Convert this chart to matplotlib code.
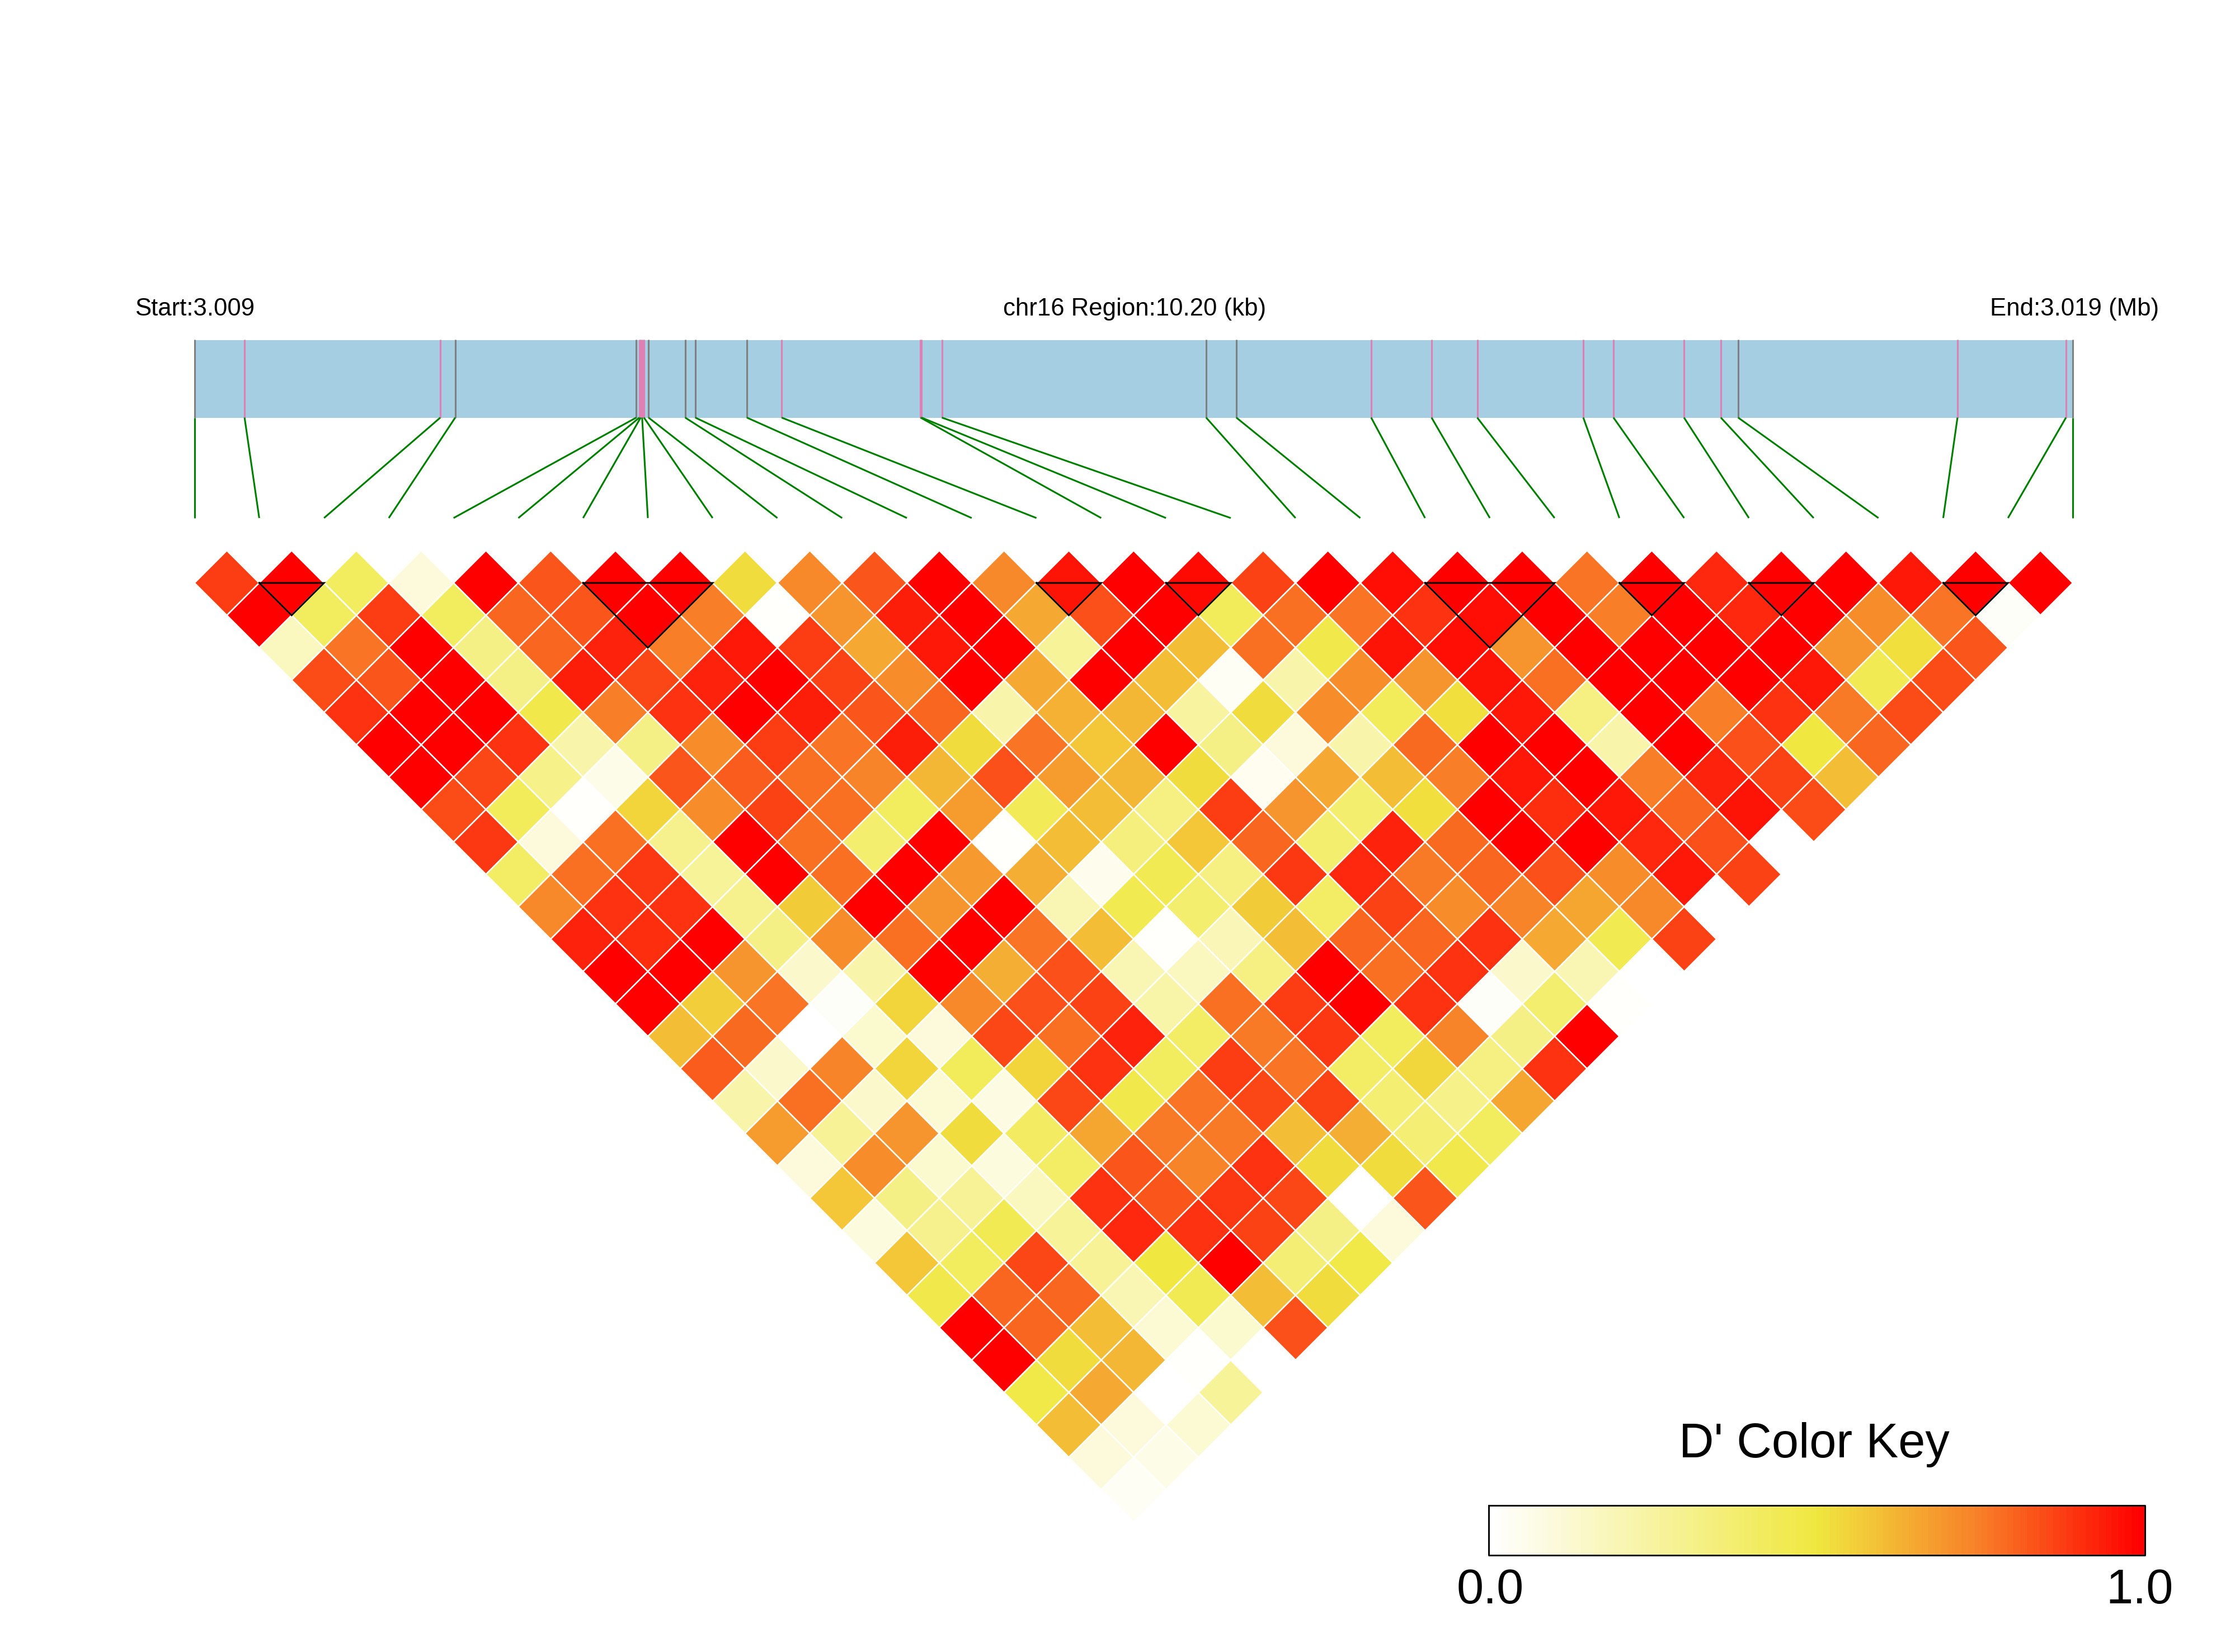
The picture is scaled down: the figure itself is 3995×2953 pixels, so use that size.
import numpy as np
import matplotlib
matplotlib.use('Agg')
import matplotlib.pyplot as plt
from matplotlib.collections import PolyCollection, LineCollection
from matplotlib.colors import LinearSegmentedColormap

plt.rcParams['font.family'] = ['Liberation Sans', 'DejaVu Sans']

# SNP positions, kb from region start
snp_kb = [0, 0.272, 1.335, 1.416, 2.399, 2.416, 2.423, 2.431, 2.441, 2.466,
          2.665, 2.720, 3.000, 3.189, 3.943, 3.949, 4.059, 5.494, 5.658, 6.390,
          6.718, 6.966, 7.542, 7.706, 8.089, 8.289, 8.383, 9.574, 10.163, 10.20]
snp_pink = [0, 1, 1, 0, 0, 1, 1, 1, 1, 0,
            0, 0, 0, 1, 1, 1, 1, 0, 0, 1,
            1, 1, 1, 1, 1, 1, 0, 1, 1, 0]

# D' values, one list per distance between SNPs
d0 = [.88, 1, .42, .10, 1, .83, 1, 1, .53, .73, .83, 1, .73, .96, 1, .98, .87, 1, .97, 1, 1, .77, 1, .92, 1, 1, .95, 1, 1]
d1 = [1, .42, .88, .42, .80, .83, 1, .75, .01, .70, .94, 1, .65, .84, 1, .43, .78, .77, .90, .97, 1, .75, 1, .92, 1, .72, .77, .02]
d2 = [.17, .77, 1, .32, .80, .93, .75, .95, .88, .65, .95, 1, .27, 1, .60, .78, .47, .96, .97, .70, 1, 1, 1, 1, .70, .52, .83]
d3 = [.85, .83, 1, .32, .94, .86, .93, 1, .87, .72, 1, .65, 1, .60, .03, .22, .72, .70, .96, .78, 1, 1, 1, .95, .45, .85]
d4 = [.90, 1, 1, .47, .75, .90, 1, .94, .83, .80, .22, .63, .62, .25, .53, .72, .43, .52, .95, .33, 1, .75, .90, .76, .85]
d5 = [1, 1, .90, .22, .32, .72, .88, .77, .94, .53, .77, .58, 1, .32, .10, .22, .79, 1, 1, .22, 1, .84, .50, .80]
d6 = [1, .86, .31, .06, .83, .82, .78, .74, .62, .84, .68, .62, .53, .04, .65, .60, .75, .95, 1, .75, .93, .87, .60]
d7 = [.85, .43, .01, .55, .72, .87, .78, .42, .68, .44, .60, .33, .88, .70, .38, .52, 1, .91, .95, .80, .96, .85]
d8 = [.89, .10, .78, .30, 1, .78, .38, 1, .01, .60, .34, .58, .80, .38, .93, .79, 1, 1, .92, .84, 0]
d9 = [.40, .78, .89, .27, 1, .78, 1, .69, .64, .05, .45, .33, .89, .92, .76, .80, .84, .72, .95, .87]
d10 = [.73, .90, .90, .30, .57, 1, .70, 1, .20, .46, .38, .57, .40, .87, .72, .74, .66, .73, 0]
d11 = [.93, .91, 1, .32, .72, .78, 1, .77, .60, .01, .19, .60, .80, .80, .90, .65, .46, .87]
d12 = [1, 1, .70, .14, .22, 1, .64, .84, .20, .17, .33, 1, .78, .90, .14, .20, 0]
d13 = [1, .56, .77, .02, .55, .73, .84, .87, .23, .78, .88, 1, .90, .02, .38, .01]
d14 = [.60, .79, 0, .13, .10, .86, .78, .93, .40, .76, .89, .42, .74, .32, 1]
d15 = [.82, .14, .74, .55, .43, .55, .90, .42, .88, .77, .40, .54, .33, .90]
d16 = [.22, .78, .14, .11, .08, .86, .47, .77, .86, .87, .37, .31, .66]
d17 = [.68, .28, .70, .53, .41, .66, .76, .76, .60, .64, .36, .42]
d18 = [.10, .72, .13, .09, .40, .83, .74, .90, .53, .53, .47]
d19 = [.58, .32, .28, .17, .90, .83, .89, .86, 0, .83]
d20 = [.09, .30, .45, .27, .92, .90, .87, .32, .10]
d21 = [.58, .42, .86, .28, .50, 1, .36, .48]
d22 = [.47, .80, .80, .20, .45, .60, .53]
d23 = [1, .80, .60, .12, .13, .84]
d24 = [1, .53, .62, .01, 0]
d25 = [.48, .65, 0, .27]
d26 = [.60, .10, .12]
d27 = [.10, .07]
d28 = [.03]
rows = [d0, d1, d2, d3, d4, d5, d6, d7, d8, d9, d10, d11, d12, d13, d14,
        d15, d16, d17, d18, d19, d20, d21, d22, d23, d24, d25, d26, d27, d28]

# haplotype blocks (first SNP, last SNP)
blocks = [(1, 2), (6, 8), (13, 14), (15, 16), (19, 21), (22, 23), (24, 25), (27, 28)]

cmap = LinearSegmentedColormap.from_list('ld', [(0, '#FFFFFF'), (0.5, '#F0E840'),
                                                (0.75, '#F88028'), (1, '#FF0000')])

W, H = 3995, 2953
fig = plt.figure(figsize=(W / 300, H / 300), dpi=300)
ax = fig.add_axes([0, 0, 1, 1])
ax.set_xlim(0, W)
ax.set_ylim(H, 0)
ax.axis('off')

left, right = 347.6, 3705
n = len(snp_kb)
step = (right - left) / (n - 1)   # gap between SNPs on the triangle
half = step / 2
y0 = 1042
band_top, band_bot, link_bot = 607.5, 746.5, 926


def kb_x(kb):
    return left + (right - left) * kb / snp_kb[-1]


# gene band
ax.fill_between([left, right], band_top, band_bot, color='#A6CEE3', lw=0, zorder=1)
for i, kb in enumerate(snp_kb):
    col = '#DE80B4' if snp_pink[i] else '#808080'
    ax.plot([kb_x(kb)] * 2, [band_top - 1, band_bot], color=col, lw=0.75, zorder=2, solid_capstyle='butt')

# links from band down to triangle
links = [[(kb_x(kb), band_bot), (left + i * step, link_bot)] for i, kb in enumerate(snp_kb)]
ax.add_collection(LineCollection(links, colors='#008000', linewidths=0.75, zorder=2))

# LD cells
polys = []
vals = []
for r, row in enumerate(rows):
    for c, v in enumerate(row):
        cx = left + step * (c + (r + 1) / 2)
        cy = y0 + half * r
        polys.append([(cx - half, cy), (cx, cy - half), (cx + half, cy), (cx, cy + half)])
        vals.append(v)
pc = PolyCollection(polys, array=np.array(vals), cmap=cmap, edgecolors='white', linewidths=0.6, zorder=3)
pc.set_clim(0, 1)
ax.add_collection(pc)

# block outlines
for a, b in blocks:
    xa, xb = left + a * step, left + b * step
    ax.plot([xa, xb, (xa + xb) / 2, xa], [y0, y0, y0 + half * (b - a), y0],
            color='black', lw=0.7, zorder=4, solid_joinstyle='miter')

# header text
ax.text(kb_x(0), 564, 'Start:3.009', fontsize=10.5, ha='center', va='baseline')
ax.text(2028, 564, 'chr16 Region:10.20 (kb)', fontsize=10.5, ha='center', va='baseline')
ax.text(3708, 564, 'End:3.019 (Mb)', fontsize=10.5, ha='center', va='baseline')

# color key
grad = np.linspace(0, 1, 100).reshape(1, -1)
kl, kr, kt, kb_ = 2661.5, 3834, 2691, 2780
ax.imshow(grad, extent=(kl, kr, kb_, kt), cmap=cmap, vmin=0, vmax=1, aspect='auto',
          interpolation='nearest', zorder=3)
ax.set_xlim(0, W)
ax.set_ylim(H, 0)
ax.plot([kl, kr, kr, kl, kl], [kt, kt, kb_, kb_, kt], color='black', lw=0.7, zorder=4)
ax.text(3243, 2605, "D' Color Key", fontsize=20.8, ha='center', va='baseline')
ax.text(2664, 2866, '0.0', fontsize=20.8, ha='center', va='baseline')
ax.text(3825, 2866, '1.0', fontsize=20.8, ha='center', va='baseline')

fig.savefig('out.png', dpi=300)
